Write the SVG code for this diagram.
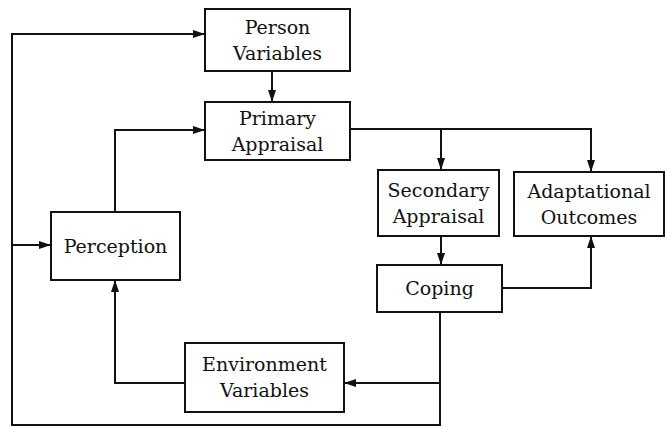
<svg xmlns="http://www.w3.org/2000/svg" width="665" height="427" viewBox="0 0 665 427">
  <style>
    .box { fill: #fff; stroke: #111; stroke-width: 2; }
    .lbl { font-family: "DejaVu Serif", "Liberation Serif", serif; font-size: 19px; fill: #111; text-anchor: middle; }
    .wire { fill: none; stroke: #111; stroke-width: 2; }
    .arr { fill: none; stroke: #111; stroke-width: 2; marker-end: url(#head); }
  </style>
  <defs>
    <marker id="head" viewBox="0 0 12 8" refX="12" refY="4" markerWidth="12" markerHeight="8" markerUnits="userSpaceOnUse" orient="auto">
      <path d="M0,0 L12,4 L0,8 Z" fill="#111"/>
    </marker>
  </defs>
  <rect width="665" height="427" fill="#fff"/>

  <g id="connectors">
    <path class="arr" d="M272,71 V102"/>
    <path class="arr" d="M440,312 V425 H12 V34 H205"/>
    <path class="arr" d="M12,245 H51"/>
    <path class="arr" d="M440,383 H344"/>
    <path class="arr" d="M115,212 V130 H205"/>
    <path class="arr" d="M185,383 H115 V280"/>
    <path class="arr" d="M350,129 H591 V172"/>
    <path class="arr" d="M441,129 V170"/>
    <path class="arr" d="M441,236 V265"/>
    <path class="arr" d="M502,288 H591 V236"/>
  </g>

  <g id="person-variables">
    <rect class="box" x="205" y="9" width="145" height="62"/>
    <text class="lbl" x="277.5" y="34">Person</text>
    <text class="lbl" x="277.5" y="60">Variables</text>
  </g>
  <g id="primary-appraisal">
    <rect class="box" x="205" y="102" width="145" height="58"/>
    <text class="lbl" x="277.5" y="125">Primary</text>
    <text class="lbl" x="277.5" y="151">Appraisal</text>
  </g>
  <g id="secondary-appraisal">
    <rect class="box" x="378" y="170" width="121" height="66"/>
    <text class="lbl" x="438.5" y="197">Secondary</text>
    <text class="lbl" x="438.5" y="223">Appraisal</text>
  </g>
  <g id="adaptational-outcomes">
    <rect class="box" x="514" y="172" width="150" height="64"/>
    <text class="lbl" x="589" y="198">Adaptational</text>
    <text class="lbl" x="589" y="224">Outcomes</text>
  </g>
  <g id="perception">
    <rect class="box" x="51" y="212" width="129" height="68"/>
    <text class="lbl" x="115.5" y="253">Perception</text>
  </g>
  <g id="coping">
    <rect class="box" x="377" y="265" width="125" height="47"/>
    <text class="lbl" x="439.5" y="295">Coping</text>
  </g>
  <g id="environment-variables">
    <rect class="box" x="185" y="343" width="159" height="69"/>
    <text class="lbl" x="264.5" y="371">Environment</text>
    <text class="lbl" x="264.5" y="397">Variables</text>
  </g>
</svg>
